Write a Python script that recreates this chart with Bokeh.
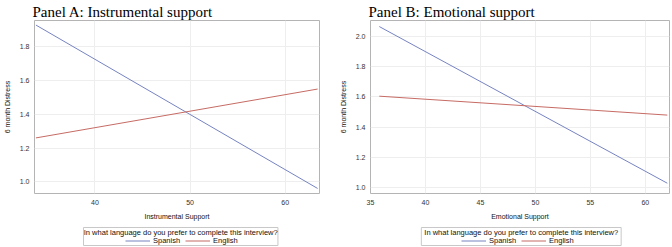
from bokeh.plotting import figure
from bokeh.layouts import row, column
from bokeh.models import Range1d, FixedTicker, NumeralTickFormatter, Legend, LegendItem
from bokeh.core.properties import value
from bokeh.embed import file_html
from bokeh.resources import INLINE

# Data
legend_title = "In what language do you prefer to complete this interview?"
series_names = ["Spanish", "English"]

a_title = "Panel A: Instrumental support"
a_xlabel = "Instrumental Support"
a_x = [33.8, 63.4]
a_spanish = [1.93, 0.96]
a_english = [1.26, 1.55]
a_xticks = [40, 50, 60]
a_yticks = [1.0, 1.2, 1.4, 1.6, 1.8]

b_title = "Panel B:  Emotional support"
b_xlabel = "Emotional Support"
b_x = [35.8, 62.0]
b_spanish = [2.065, 1.03]
b_english = [1.605, 1.48]
b_xticks = [35, 40, 45, 50, 55, 60]
b_yticks = [1.0, 1.2, 1.4, 1.6, 1.8, 2.0]

ylabel = "6 month Distress"
colors = ["#7683C0", "#C66B64"]
FONT = "Liberation Sans"
W = 336
H_MAIN = 226
H_LEG = 21


def make_panel(title, xlabel, x, spanish, english, xticks, yticks, xr, yr, left, right):
    p = figure(width=W, height=H_MAIN, output_backend="svg", toolbar_location=None,
               x_range=Range1d(*xr), y_range=Range1d(*yr),
               min_border_left=left, min_border_right=right, min_border_top=0, min_border_bottom=33)
    p.title.text = title
    p.title.text_font = "Liberation Serif"
    p.title.text_font_size = "15px"
    p.title.text_font_style = "normal"
    p.title.text_color = "#000000"
    p.title.offset = -2
    p.title.standoff = 2

    p.outline_line_color = "#b4b4b4"
    p.outline_line_width = 1
    p.background_fill_color = "white"
    p.border_fill_color = "white"

    for ax in (p.xaxis[0], p.yaxis[0]):
        ax.axis_line_color = None
        ax.major_tick_line_color = None
        ax.minor_tick_line_color = None
        ax.major_label_text_font = FONT
        ax.major_label_text_font_size = "7px"
        ax.major_label_text_color = "#333333"
        ax.axis_label_text_font = FONT
        ax.axis_label_text_font_size = "7px"
        ax.axis_label_text_font_style = "normal"
        ax.axis_label_text_color = "#111111"
        ax.major_tick_out = 0
        ax.major_tick_in = 0
    p.xaxis.ticker = FixedTicker(ticks=xticks)
    p.yaxis.ticker = FixedTicker(ticks=yticks)
    p.yaxis.formatter = NumeralTickFormatter(format="0.0")
    p.xaxis.axis_label = xlabel
    p.yaxis.axis_label = ylabel
    p.xaxis.major_label_standoff = 6
    p.xaxis.axis_label_standoff = 5
    p.yaxis.major_label_standoff = 5
    p.yaxis.axis_label_standoff = 6

    p.xgrid.grid_line_color = "#eeeeee"
    p.ygrid.grid_line_color = "#eeeeee"

    p.line(x, spanish, line_color=colors[0], line_width=1)
    p.line(x, english, line_color=colors[1], line_width=1)
    return p


def make_legend(frame_left, frame_right, box_left, box_right, items_left):
    # the legend strip's frame is aligned with the panel's frame by the column layout,
    # so its x range is expressed in the panel's pixel coordinates
    q = figure(width=W, height=H_LEG, output_backend="svg", toolbar_location=None,
               x_range=Range1d(frame_left, frame_right), y_range=Range1d(0, H_LEG),
               x_axis_location=None, y_axis_location=None,
               min_border_left=frame_left, min_border_right=W - frame_right,
               min_border_top=0, min_border_bottom=0)
    q.title.visible = False
    q.outline_line_color = None
    q.xgrid.visible = False
    q.ygrid.visible = False
    q.quad(left=[box_left], right=[box_right], bottom=[2], top=[20],
           fill_color=None, line_color="#c8c8c8", line_width=1)
    q.text(x=[(box_left + box_right) / 2], y=[15], text=[legend_title],
           text_font=value(FONT), text_font_size="7.5px", text_color="#111111",
           text_align="center", text_baseline="middle")
    # sample renderers (off-canvas, only used for the legend glyphs)
    r1 = q.line([-20, -10], [-20, -10], line_color=colors[0], line_width=1)
    r2 = q.line([-20, -10], [-20, -10], line_color=colors[1], line_width=1)
    leg = Legend(items=[LegendItem(label=series_names[0], renderers=[r1]),
                        LegendItem(label=series_names[1], renderers=[r2])],
                 orientation="horizontal", location=(items_left - frame_left, 2.5))
    leg.label_text_font = FONT
    leg.label_text_font_size = "7.5px"
    leg.label_text_color = "#111111"
    leg.glyph_width = 25
    leg.glyph_height = 7
    leg.label_height = 7
    leg.label_standoff = 3
    leg.spacing = 5
    leg.padding = 0
    leg.margin = 0
    leg.border_line_color = None
    leg.background_fill_color = None
    leg.background_fill_alpha = 0
    q.add_layout(leg, "center")
    return q


pa = make_panel(a_title, a_xlabel, a_x, a_spanish, a_english, a_xticks, a_yticks,
                (33.65, 63.6), (0.93, 1.957), 31, 17)
pb = make_panel(b_title, b_xlabel, b_x, b_spanish, b_english, b_xticks, b_yticks,
                (35.0, 62.2), (0.962, 2.105), 33, 3)
la = make_legend(31, 319, 80.5, 277, 122)
lb = make_legend(33, 333, 84, 284.5, 124)

layout = row(column(pa, la, spacing=0), column(pb, lb, spacing=0), spacing=0)
open("out.html", "w").write(file_html(layout, INLINE))
